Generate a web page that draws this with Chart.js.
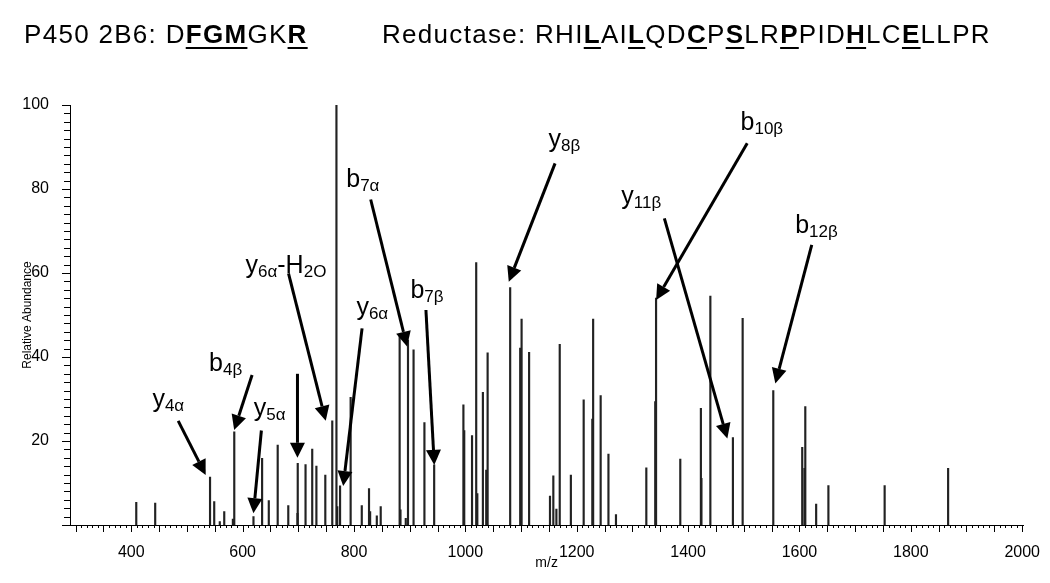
<!DOCTYPE html>
<html>
<head>
<meta charset="utf-8">
<script src="https://cdn.jsdelivr.net/npm/chart.js@4.4.0/dist/chart.umd.min.js"></script>
<style>
  html, body { margin: 0; padding: 0; background: #fff; }
  #wrap { position: relative; width: 1050px; height: 583px; }
  .cab { position: absolute; top: 21px; font-family: 'Liberation Sans', Arial, sans-serif; font-size: 26px; letter-spacing: 1.3px; color: #000; white-space: nowrap; line-height: 1; }
  .cab b { text-decoration: underline; text-decoration-thickness: 2px; text-underline-offset: 4px; }
  canvas { position: absolute; left: 0; top: 0; }
</style>
</head>
<body>
<div id="wrap">
  <canvas id="espectro" width="1050" height="583"></canvas>
  <div class="cab" style="left:24px">P450 2B6: D<b>FGM</b>GK<b>R</b></div>
  <div class="cab" style="left:382px">Reductase: RHI<b>L</b>AI<b>L</b>QD<b>C</b>P<b>S</b>LR<b>P</b>PID<b>H</b>LC<b>E</b>LLPR</div>
</div>
<script>
const peakMz = [409, 443, 541.5, 549, 559, 567, 582.5, 585, 619.5, 635, 647, 663, 682, 698.5, 699, 713, 725, 732.5, 748.5, 761,
  768.5, 770, 775, 794, 814, 827, 829, 841, 848, 882, 883.5, 893, 897, 907, 926.5, 944, 996.5, 998, 1012, 1019.5,
  1021.5, 1031.5, 1037.5, 1040, 1080.5, 1098.5, 1101, 1114.5, 1152, 1158, 1163.5, 1169.5, 1189.5, 1212.5, 1228, 1229.5, 1243, 1257, 1270.5,
  1325, 1341, 1342.5, 1386, 1423, 1424, 1440, 1480.5, 1498, 1553, 1605, 1609, 1610.5, 1630, 1652, 1753, 1867];
const peakAbundance = [5.4, 5.2, 11.4, 5.6, 0.8, 3.2, 1.4, 22.2, 2.0, 15.9, 5.8, 19.0, 4.6, 2.8, 14.7, 14.4, 18.1, 14.0, 11.9, 24.8,
  100, 4.4, 9.3, 30.4, 4.6, 8.7, 3.2, 2.2, 4.4, 45.2, 3.6, 1.6, 44.0, 41.7, 24.4, 14.3, 28.6, 22.5, 21.3, 62.5,
  7.5, 31.6, 13.1, 41.0, 56.5, 42.1, 49.0, 41.1, 6.9, 11.7, 3.8, 43.0, 11.9, 29.8, 25.2, 49.0, 30.8, 16.9, 2.5,
  13.6, 29.4, 54.0, 15.7, 27.8, 11.1, 54.5, 20.8, 49.2, 32.0, 18.5, 13.5, 28.2, 5.0, 9.4, 9.4, 13.5];

const xTicks = [400, 600, 800, 1000, 1200, 1400, 1600, 1800, 2000];
const yTicks = [20, 40, 60, 80, 100];

// anotacoes: texto (partes separadas por _ : normal, subscrito, ...), posicao do texto, inicio e ponta da seta (m/z, abundancia)
const annText = ['y_4α', 'b_4β', 'y_5α', '', 'y_6α_-H_2O', 'y_6α', 'b_7α', 'b_7β', 'y_8β', 'b_10β', 'y_11β', 'b_12β'];
const annTextAt = [[438, 28.2], [539.7, 36.7], [620.2, 25.9], null, [605.2, 60.1], [804.3, 50.1], [786.1, 80.5], [901.3, 54.0],
  [1149.3, 90.1], [1494.2, 94.0], [1280.2, 76.5], [1592.3, 69.5]];
const annTail = [[484.3, 24.8], [617, 35.7], [633.7, 22.5], [698.5, 36.0], [682.4, 59.9], [814.5, 46.8], [830, 77.5], [929.2, 51.2],
  [1161.1, 86.1], [1506.2, 90.9], [1357.4, 73.0], [1622.1, 66.7]];
const annTip = [[533.7, 11.9], [584.8, 22.6], [619.4, 2.8], [698.5, 16.0], [749.3, 24.8], [780.6, 9.3], [895.3, 42.5], [944.2, 14.3],
  [1078, 57.9], [1342.6, 53.6], [1470.5, 20.6], [1556.7, 33.7]];

const FONTE = "'Liberation Sans', Arial, sans-serif";

const anotacoes = {
  id: 'anotacoes',
  afterDatasetsDraw(chart) {
    const {ctx, scales: {x, y}} = chart;
    const base = y.getPixelForValue(0);
    const esq = x.getPixelForValue(x.min);
    ctx.save();
    ctx.strokeStyle = '#000';
    ctx.fillStyle = '#000';
    ctx.lineWidth = 1;
    // marcas do eixo x
    ctx.beginPath();
    for (let v = 300; v <= 2000; v += 10) {
      const px = Math.round(x.getPixelForValue(v)) + 0.5;
      ctx.moveTo(px, base);
      ctx.lineTo(px, base + (v % 50 === 0 ? 7 : 3));
    }
    // marcas do eixo y
    for (let v = 0; v <= 100; v += 2) {
      const py = Math.round(y.getPixelForValue(v)) + 0.5;
      ctx.moveTo(esq, py);
      ctx.lineTo(esq - (v % 20 === 0 ? 8 : 6), py);
    }
    ctx.stroke();

    // setas
    ctx.lineWidth = 3;
    for (let i = 0; i < annTip.length; i++) {
      const x0 = x.getPixelForValue(annTail[i][0]), y0 = y.getPixelForValue(annTail[i][1]);
      const x1 = x.getPixelForValue(annTip[i][0]), y1 = y.getPixelForValue(annTip[i][1]);
      const ang = Math.atan2(y1 - y0, x1 - x0);
      const bx = x1 - 15 * Math.cos(ang), by = y1 - 15 * Math.sin(ang);
      ctx.beginPath();
      ctx.moveTo(x0, y0);
      ctx.lineTo(bx, by);
      ctx.stroke();
      ctx.beginPath();
      ctx.moveTo(x1, y1);
      ctx.lineTo(bx + 7.5 * Math.sin(ang), by - 7.5 * Math.cos(ang));
      ctx.lineTo(bx - 7.5 * Math.sin(ang), by + 7.5 * Math.cos(ang));
      ctx.closePath();
      ctx.fill();
    }

    // textos das anotacoes
    ctx.textBaseline = 'alphabetic';
    ctx.textAlign = 'left';
    for (let i = 0; i < annText.length; i++) {
      if (!annTextAt[i]) continue;
      let px = x.getPixelForValue(annTextAt[i][0]);
      const py = y.getPixelForValue(annTextAt[i][1]);
      annText[i].split('_').forEach((parte, k) => {
        if (!parte) return;
        const sub = k % 2 === 1;
        ctx.font = (sub ? '17px ' : '25px ') + FONTE;
        ctx.fillText(parte, px, sub ? py + 4 : py);
        px += ctx.measureText(parte).width;
      });
    }
    ctx.restore();
  }
};

const ctxEsp = document.getElementById('espectro').getContext('2d');
const graficoEspectro = new Chart(ctxEsp, {
  type: 'bar',
  data: {
    datasets: [{
      label: 'Relative Abundance',
      data: peakMz.map((m, i) => ({x: m, y: peakAbundance[i]})),
      backgroundColor: '#222',
      borderWidth: 0,
      barThickness: 1.5
    }]
  },
  options: {
    responsive: false,
    animation: false,
    layout: { padding: { top: 105, right: 20, left: 0, bottom: 0 } },
    plugins: {
      legend: { display: false },
      tooltip: { enabled: false }
    },
    scales: {
      x: {
        type: 'linear',
        offset: false,
        min: 290,
        max: 2002,
        grid: { display: false, offset: false },
        border: { display: true, color: '#000', width: 1 },
        afterBuildTicks: (s) => { s.ticks = xTicks.map(v => ({value: v})); },
        afterFit: (s) => { s.height = 58; },
        ticks: { color: '#000', padding: 10, maxRotation: 0, autoSkip: false, font: { family: FONTE, size: 16 },
          callback: (v) => String(v) },
        title: { display: true, text: 'm/z', color: '#000', padding: { top: 0, bottom: 11 }, font: { family: FONTE, size: 14 } }
      },
      y: {
        min: 0,
        max: 100,
        grid: { display: false },
        border: { display: true, color: '#000', width: 1 },
        afterBuildTicks: (s) => { s.ticks = yTicks.map(v => ({value: v})); },
        afterFit: (s) => { s.width = 70; },
        ticks: { color: '#000', padding: 13, font: { family: FONTE, size: 16 }, callback: (v) => String(v) },
        title: { display: true, text: 'Relative Abundance', color: '#000', padding: { top: 20, bottom: 0 }, font: { family: FONTE, size: 12 } }
      }
    }
  },
  plugins: [anotacoes]
});
</script>
</body>
</html>
